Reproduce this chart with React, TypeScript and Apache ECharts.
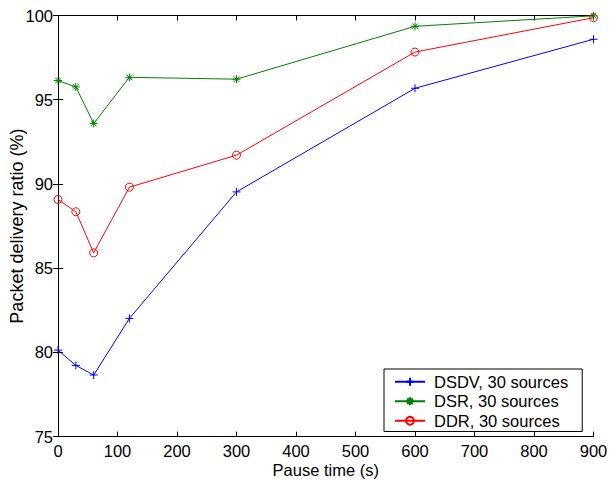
import React, { useEffect, useRef } from "react";
import * as echarts from "echarts";

// Pause times (s)
const pauseTimes = [0, 30, 60, 120, 300, 600, 900];

// Packet delivery ratio (%) per protocol
const dsdv = [80.14, 79.23, 78.66, 82.02, 89.53, 95.68, 98.59];
const dsr = [96.14, 95.76, 93.59, 96.33, 96.22, 99.36, 99.98];
const ddr = [89.08, 88.35, 85.91, 89.81, 91.71, 97.83, 99.87];

const seriesNames = ["DSDV, 30 sources", "DSR, 30 sources", "DDR, 30 sources"];

const xTicks = { min: 0, max: 900, interval: 100 };
const yTicks = { min: 75, max: 100, interval: 5 };

const FONT = "'Liberation Sans', Arial, Helvetica, sans-serif";

const PLUS = "path://M0,5L10,5M5,0L5,10";
const STAR = "path://M0,5L10,5M5,0L5,10M1.5,1.5L8.5,8.5M1.5,8.5L8.5,1.5";

const pairs = (ys: number[]) => pauseTimes.map((x, i) => [x, ys[i]]);

export default function App() {
  const ref = useRef<HTMLDivElement>(null);

  useEffect(() => {
    if (!ref.current) return;
    const chart = echarts.init(ref.current, undefined, { renderer: "svg" });

    const axisLine = { show: true, lineStyle: { color: "#000", width: 1 } };
    const tick = { show: true, inside: true, length: 5, lineStyle: { color: "#000", width: 1 } };
    const label = { color: "#000", fontSize: 16.5, fontFamily: FONT, lineHeight: 16 };

    const mkSeries = (name: string, data: number[], color: string, symbol: string, size: number, circle = false) => ({
      name,
      type: "line",
      data: pairs(data),
      xAxisIndex: 0,
      yAxisIndex: 0,
      symbol,
      symbolSize: size,
      showSymbol: true,
      lineStyle: { color, width: 1 },
      itemStyle: circle
        ? { color: "rgba(0,0,0,0)", borderColor: color, borderWidth: 1 }
        : { color, borderColor: color, borderWidth: 1 },
      emphasis: { disabled: true },
      z: 3,
    });

    chart.setOption({
      animation: false,
      backgroundColor: "#fff",
      grid: {
        left: 58,
        right: 18.5,
        top: 15.5,
        bottom: 51.3,
        containLabel: false,
        outerBoundsMode: "none",
      },
      xAxis: [
        {
          type: "value",
          position: "bottom",
          ...xTicks,
          axisLine,
          axisTick: tick,
          axisLabel: { ...label, margin: 6 },
          splitLine: { show: false },
          name: "Pause time (s)",
          nameLocation: "middle",
          nameGap: 25,
          nameMoveOverlap: false,
          nameTextStyle: { color: "#000", fontSize: 16.5, fontFamily: FONT, lineHeight: 17 },
        },
        {
          type: "value",
          position: "top",
          ...xTicks,
          axisLine,
          axisTick: tick,
          axisLabel: { show: false },
          splitLine: { show: false },
        },
      ],
      yAxis: [
        {
          type: "value",
          position: "left",
          ...yTicks,
          axisLine,
          axisTick: tick,
          axisLabel: { ...label, margin: 5 },
          splitLine: { show: false },
          name: "Packet delivery ratio (%)",
          nameLocation: "middle",
          nameGap: 32,
          nameRotate: 90,
          nameMoveOverlap: false,
          nameTextStyle: { color: "#000", fontSize: 18, fontFamily: FONT },
        },
        {
          type: "value",
          position: "right",
          ...yTicks,
          axisLine,
          axisTick: tick,
          axisLabel: { show: false },
          splitLine: { show: false },
        },
      ],
      legend: {
        left: 384,
        top: 369,
        orient: "vertical",
        selectedMode: false,
        backgroundColor: "#fff",
        borderColor: "#000",
        borderWidth: 1,
        borderRadius: 0,
        padding: [3, 14, 1, 10],
        itemWidth: 30,
        itemHeight: 10,
        itemGap: 0,
        textStyle: { color: "#000", fontSize: 16.5, fontFamily: FONT, lineHeight: 19.5, padding: [0, 0, 0, 4] },
        data: seriesNames,
      },
      series: [
        mkSeries(seriesNames[0], dsdv, "#0000ff", PLUS, 8),
        mkSeries(seriesNames[1], dsr, "#008000", STAR, 8),
        mkSeries(seriesNames[2], ddr, "#ff0000", "circle", 8, true),
      ],
    });

    return () => chart.dispose();
  }, []);

  return (
    <div
      ref={ref}
      style={{ position: "fixed", left: 0, top: 0, width: 612, height: 488 }}
    />
  );
}
